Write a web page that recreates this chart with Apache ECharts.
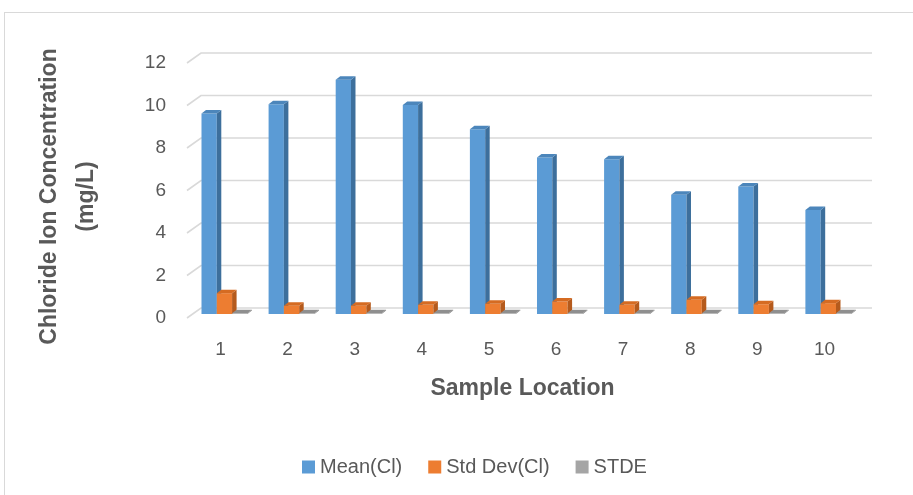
<!DOCTYPE html>
<html><head><meta charset="utf-8">
<script src="https://cdn.jsdelivr.net/npm/echarts@6/dist/echarts.min.js"></script>
<style>
html,body{margin:0;padding:0;background:#fff;}
#c{width:913px;height:495px;position:absolute;left:0;top:0;}
#frame{position:absolute;left:4px;top:12px;width:1000px;height:1000px;border:1px solid #d9d9d9;box-sizing:border-box;pointer-events:none;}
</style></head>
<body>
<div id="frame"></div>
<div id="c"></div>
<script>
const categories = ['1','2','3','4','5','6','7','8','9','10'];
const meanCl = [9.44, 9.87, 11.02, 9.84, 8.70, 7.36, 7.28, 5.61, 6.00, 4.90];
const stdDevCl = [0.98, 0.39, 0.39, 0.43, 0.48, 0.59, 0.43, 0.67, 0.46, 0.51];
const stde = [0.03, 0.03, 0.03, 0.03, 0.03, 0.03, 0.03, 0.03, 0.03, 0.03];
const yTicks = [0, 2, 4, 6, 8, 10, 12];
const seriesNames = ['Mean(Cl)', 'Std Dev(Cl)', 'STDE'];

const FONT = '"Liberation Sans", Arial, sans-serif';
const TXT = '#595959';
const palette = [
  {front:'#5b9bd5', side:'#3d6f9c', top:'#4c86bb'},
  {front:'#ed7d31', side:'#b55a1c', top:'#d56b22'},
  {front:'#a5a5a5', side:'#7a7a7a', top:'#8f8f8f'}
];
// 3D look constants
const DEPTH_X = 4.5, DEPTH_Y = 3.5, MID_DX = 0, MID_DY = -4;
const GRID_DX = 14, GRID_DY = -10;

function barRender(si){
  return function(params, api){
    const idx = api.value(0), v = api.value(1);
    const c = api.coord([idx, v]);
    const b = api.coord([idx, 0]);
    const band = api.size([1, 0])[0];
    const w = 0.228 * band;
    const x0 = c[0] + (-0.284 + 0.228 * si) * band + MID_DX;
    const yT = c[1] + MID_DY, yB = b[1] + MID_DY;
    const col = palette[si];
    return {type:'group', children:[
      {type:'rect', shape:{x:x0, y:yT, width:w, height:Math.max(yB - yT, 0)}, style:{fill:col.front}},
      {type:'polygon', shape:{points:[[x0+w,yT],[x0+w+DEPTH_X,yT-DEPTH_Y],[x0+w+DEPTH_X,yB-DEPTH_Y],[x0+w,yB]]}, style:{fill:col.side}},
      {type:'polygon', shape:{points:[[x0,yT],[x0+DEPTH_X,yT-DEPTH_Y],[x0+w+DEPTH_X,yT-DEPTH_Y],[x0+w,yT]]}, style:{fill:col.top}}
    ]};
  };
}

function gridRender(params, api){
  const v = api.value(0);
  const y = api.coord([0, v])[1];
  const cs = params.coordSys;
  const l = cs.x, r = cs.x + cs.width;
  return {type:'polyline', shape:{points:[[l, y],[l+GRID_DX, y+GRID_DY],[r+GRID_DX, y+GRID_DY]]},
    style:{stroke:'#d9d9d9', lineWidth:1.6, fill:null}};
}

const datasets = [meanCl, stdDevCl, stde];
const series = [{
  type:'custom', name:'_grid', silent:true, z:0, clip:false,
  data: yTicks.map(t => [t]), encode:{y:0}, renderItem: gridRender
}];
datasets.forEach((arr, si) => {
  series.push({
    type:'custom', name: seriesNames[si], z: 2 + si, clip:false,
    itemStyle:{color: palette[si].front},
    data: arr.map((v, i) => [i, v]),
    encode:{x:0, y:1},
    renderItem: barRender(si)
  });
});

const chart = echarts.init(document.getElementById('c'), null, {renderer:'canvas'});
chart.setOption({
  animation:false,
  backgroundColor:'transparent',
  textStyle:{fontFamily:FONT},
  grid:{left:187, right:55, top:63, bottom:177, containLabel:false},
  legend:{
    data: seriesNames, left:297, top:452, icon:'rect', itemWidth:13, itemHeight:13, itemGap:26,
    textStyle:{fontFamily:FONT, fontSize:20, color:TXT}, selectedMode:false
  },
  xAxis:{
    type:'category', data:categories,
    axisLine:{show:false}, axisTick:{show:false},
    axisLabel:{fontSize:19, color:TXT, margin:22, fontFamily:FONT},
    name:'Sample Location', nameLocation:'middle', nameGap:59,
    nameTextStyle:{fontSize:23, fontWeight:'bold', color:TXT, fontFamily:FONT}
  },
  yAxis:{
    type:'value', min:0, max:12, interval:2,
    axisLine:{show:false}, axisTick:{show:false}, splitLine:{show:false},
    axisLabel:{fontSize:19, color:TXT, margin:21, fontFamily:FONT},
    name:'Chloride Ion Concentration\n(mg/L)', nameLocation:'middle', nameGap:82, nameRotate:90,
    nameTextStyle:{fontSize:23, fontWeight:'bold', color:TXT, fontFamily:FONT, lineHeight:37, padding:[0,12,0,0]}
  },
  series: series
});
</script>
</body></html>
